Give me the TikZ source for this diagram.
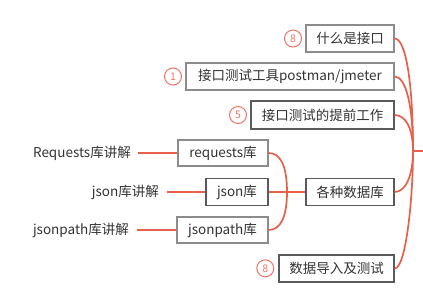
\documentclass[tikz,border=0pt]{standalone}
\usepackage{fontspec}
\setmainfont{Noto Sans CJK SC}
\definecolor{lnred}{HTML}{E8604C}
\definecolor{cired}{HTML}{EE7466}
\definecolor{txt}{HTML}{333333}
\definecolor{bdlight}{HTML}{8C8C8C}
\definecolor{bddark}{HTML}{5A5A5A}
\tikzset{
  topic/.style={draw=bdlight, line width=1.2pt, fill=white, text=txt, inner sep=0pt,
    font=\fontsize{13.5}{15}\selectfont, minimum height=27pt},
  topicdark/.style={topic, draw=bddark},
  lbl/.style={text=txt, font=\fontsize{13.5}{15}\selectfont, inner sep=0pt},
  conn/.style={draw=lnred, line width=1.7pt},
  badge/.style={circle, draw=cired, line width=1pt, minimum size=17pt, inner sep=0pt,
    text=cired, font=\fontsize{10.5}{12}\selectfont}
}
\begin{document}
\begin{tikzpicture}[x=1pt,y=-1pt]
\useasboundingbox (0,0) rectangle (423,291);
% topics
\node[topic, minimum width=88pt] (A) at (350,38.5) {什么是接口};
\node[topic, minimum width=208pt] (B) at (290,76.5) {接口测试工具postman/jmeter};
\node[topicdark, minimum width=143pt, minimum height=28pt] (C) at (322.5,115) {接口测试的提前工作};
\node[topic, minimum width=90pt, minimum height=26pt] (D) at (223,153) {requests库};
\node[topicdark, minimum width=62pt] (E) at (237,192) {json库};
\node[topic, minimum width=91pt, minimum height=26pt] (F) at (222.5,230) {jsonpath库};
\node[topicdark, minimum width=88pt] (G) at (350,192) {各种数据库};
\node[topicdark, minimum width=115pt] (H) at (336.5,268.5) {数据导入及测试};
% labels
\node[lbl, anchor=east] (LD) at (131,153) {Requests库讲解};
\node[lbl, anchor=east] (LE) at (159,192) {json库讲解};
\node[lbl, anchor=east] (LF) at (129,230) {jsonpath库讲解};
% badges
\node[badge] (bA) at (293,38.5) {8};
\node[badge] (bB) at (173,76.5) {1};
\node[badge] (bC) at (238,115) {5};
\node[badge] (bH) at (265.3,268.3) {8};
% junctions
\coordinate (R) at (413,151);
\coordinate (Rend) at (423,151);
\coordinate (S) at (287,192);
% root connectors
\draw[conn] (R) -- (Rend);
\draw[conn] (A.east) .. controls (406,38.5) and (413,84) .. (R);
\draw[conn] (B.east) .. controls (406,76.5) and (413,106) .. (R);
\draw[conn] (C.east) .. controls (406,115) and (413,129) .. (R);
\draw[conn] (G.east) .. controls (406,192) and (413,175) .. (R);
\draw[conn] (H.east) .. controls (406,268.5) and (413,198) .. (R);
% sub connectors
\draw[conn] (G.west) -- (S);
\draw[conn] (D.east) .. controls (280,153) and (287,165) .. (S);
\draw[conn] (E.east) -- (S);
\draw[conn] (F.east) .. controls (280,230) and (287,218) .. (S);
% label lines
\coordinate (pD) at (138,153);
\coordinate (pE) at (167,192);
\coordinate (pF) at (137,230);
\draw[conn] (pD) -- (D.west);
\draw[conn] (pE) -- (E.west);
\draw[conn] (pF) -- (F.west);
\end{tikzpicture}
\end{document}
